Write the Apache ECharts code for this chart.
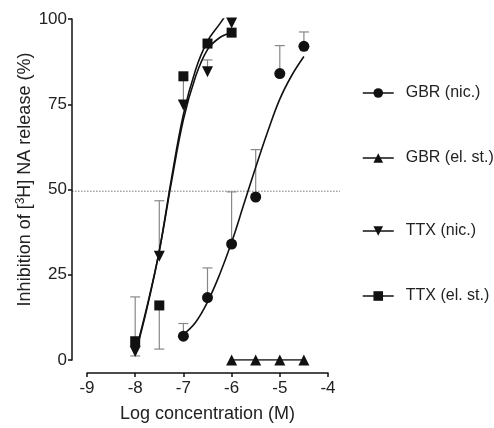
<!DOCTYPE html>
<html>
<head>
<meta charset="utf-8">
<script src="https://cdn.jsdelivr.net/npm/echarts@6/dist/echarts.min.js"></script>
<style>html,body{margin:0;padding:0;background:#fff;}#c{width:494px;height:428px;}</style>
</head>
<body>
<div id="c"></div>
<script>
// ---- data ----
const xTicks = [-9, -8, -7, -6, -5, -4];
const yTicks = [0, 25, 50, 75, 100];

// [logConc, mean]
const gbrNic   = [[-7, 7], [-6.5, 18.3], [-6, 34], [-5.5, 47.8], [-5, 84], [-4.5, 92]];
const gbrElSt  = [[-6, 0], [-5.5, 0], [-5, 0], [-4.5, 0]];
const ttxNic   = [[-8, 2.5], [-7.5, 30.4], [-7, 74.8], [-6.5, 84.5], [-6, 98.8]];
const ttxElSt  = [[-8, 5.5], [-7.5, 16], [-7, 83.2], [-6.5, 92.8], [-6, 96]];

// error bars: [logConc, mean, end of bar]
const gbrNicErr  = [[-7, 7, 10.7], [-6.5, 18.3, 27], [-6, 34, 49.3], [-5.5, 47.8, 61.7], [-5, 84, 92.2], [-4.5, 92, 96.2]];
const ttxNicErr  = [[-8, 2.5, 18.5], [-7.5, 30.4, 46.7], [-6.5, 84.5, 88]];
const ttxElStErr = [[-8, 5.5, 1.2], [-7.5, 16, 3.2], [-7, 83.2, 76]];

// fitted curves
const gbrNicCurve  = [[-7, 7.5], [-6.75, 11], [-6.5, 17], [-6.25, 25], [-6, 34.5], [-5.75, 45.5], [-5.5, 56.5], [-5.25, 67], [-5, 76.5], [-4.75, 83.5], [-4.5, 89]];
const ttxNicCurve  = [[-8, 1.5], [-7.75, 15.5], [-7.5, 32], [-7.25, 53], [-7, 72], [-6.75, 85], [-6.5, 93.5], [-6.25, 98.5], [-6.15, 100.5]];
const ttxElStCurve = [[-8, 2], [-7.75, 16], [-7.5, 32], [-7.25, 52], [-7, 70.5], [-6.75, 83], [-6.5, 91], [-6.25, 94.5], [-6, 96]];

// dotted 50% reference line: [x start, x end, y]
const refLine = [[-9.31, -3.75, 49.5]];

const names = ['GBR (nic.)', 'GBR (el. st.)', 'TTX (nic.)', 'TTX (el. st.)'];

// ---- chart ----
const FONT = 'Liberation Sans, Arial, sans-serif';
const INK = '#111';
const ERR = '#888';

function errSeries(data) {
  return {
    type: 'custom',
    silent: true,
    z: 1,
    data: data,
    encode: { x: 0, y: [1, 2] },
    renderItem: function (params, api) {
      const x = api.value(0), m = api.value(1), e = api.value(2);
      const p1 = api.coord([x, m]);
      const p2 = api.coord([x, e]);
      const w = 5;
      return {
        type: 'group',
        children: [
          { type: 'line', shape: { x1: p1[0], y1: p1[1], x2: p2[0], y2: p2[1] }, style: { stroke: ERR, lineWidth: 1.2 } },
          { type: 'line', shape: { x1: p2[0] - w, y1: p2[1], x2: p2[0] + w, y2: p2[1] }, style: { stroke: ERR, lineWidth: 1.2 } }
        ]
      };
    }
  };
}

function curve(data) {
  return {
    type: 'line', data: data, smooth: 0.4, showSymbol: false, symbol: 'none', silent: true, z: 2,
    lineStyle: { color: INK, width: 1.6 }
  };
}

function markers(name, data, symbol, rotate, size, connect) {
  return {
    type: 'line', name: name, data: data, symbol: symbol, symbolRotate: rotate, symbolSize: size,
    showSymbol: true, z: 3,
    itemStyle: { color: INK, borderWidth: 0 },
    lineStyle: connect ? { color: INK, width: 1.5 } : { color: INK, width: 0, opacity: 0 },
    emphasis: { disabled: true }
  };
}

function legendAt(name, top) {
  return {
    orient: 'vertical',
    left: 357,
    top: top,
    padding: 5,
    itemWidth: 31,
    itemHeight: 12,
    selectedMode: false,
    data: [name],
    lineStyle: { color: INK, width: 1.5, opacity: 1 },
    textStyle: { fontFamily: FONT, fontSize: 16, color: '#222', padding: [0, 0, 0, 7] }
  };
}

const legendTops = [80, 145, 218, 283];

const chart = echarts.init(document.getElementById('c'), null, { renderer: 'canvas' });
chart.setOption({
  animation: false,
  backgroundColor: '#fff',
  textStyle: { fontFamily: FONT },
  grid: { left: 87, right: 166, top: 19, bottom: 64, containLabel: false },
  legend: names.map((n, i) => legendAt(n, legendTops[i])),
  xAxis: {
    type: 'value', min: xTicks[0], max: xTicks[xTicks.length - 1], interval: 1,
    offset: 13,
    name: 'Log concentration (M)', nameLocation: 'middle', nameGap: 32,
    nameTextStyle: { fontFamily: FONT, fontSize: 18, color: '#222' },
    axisLine: { show: true, onZero: false, lineStyle: { color: INK, width: 1.5 } },
    axisTick: { show: true, length: 4, lineStyle: { color: INK, width: 1.5 } },
    axisLabel: { fontFamily: FONT, fontSize: 17, color: '#222', margin: 7 },
    splitLine: { show: false }
  },
  yAxis: {
    type: 'value', min: yTicks[0], max: yTicks[yTicks.length - 1], interval: 25,
    offset: 15,
    name: 'Inhibition of [{sup|3}H] NA release (%)', nameLocation: 'middle', nameGap: 37, nameRotate: 90,
    nameTextStyle: {
      fontFamily: FONT, fontSize: 18, color: '#222', padding: [0, 0, 0, 20],
      rich: { sup: { fontFamily: FONT, fontSize: 12, color: '#222', verticalAlign: 'top', padding: [0, 0, 8, 0] } }
    },
    axisLine: { show: true, lineStyle: { color: INK, width: 1.5 } },
    axisTick: { show: true, length: 4, lineStyle: { color: INK, width: 1.5 } },
    axisLabel: { fontFamily: FONT, fontSize: 17, color: '#222', margin: 5 },
    splitLine: { show: false }
  },
  series: [
    {
      type: 'custom', silent: true, z: 0, clip: false, data: refLine,
      encode: { x: [0, 1], y: 2 },
      renderItem: function (params, api) {
        const a = api.coord([api.value(0), api.value(2)]);
        const b = api.coord([api.value(1), api.value(2)]);
        return { type: 'line', shape: { x1: a[0], y1: a[1], x2: b[0], y2: b[1] },
          style: { stroke: '#777', lineWidth: 1, lineDash: [1.5, 1.5] } };
      }
    },
    errSeries(gbrNicErr),
    errSeries(ttxNicErr),
    errSeries(ttxElStErr),
    curve(gbrNicCurve),
    curve(ttxNicCurve),
    curve(ttxElStCurve),
    markers(names[0], gbrNic, 'circle', 0, 11, false),
    markers(names[1], gbrElSt, 'triangle', 0, 11, true),
    markers(names[2], ttxNic, 'triangle', 180, 11, false),
    markers(names[3], ttxElSt, 'rect', 0, 10, false)
  ]
});
</script>
</body>
</html>
